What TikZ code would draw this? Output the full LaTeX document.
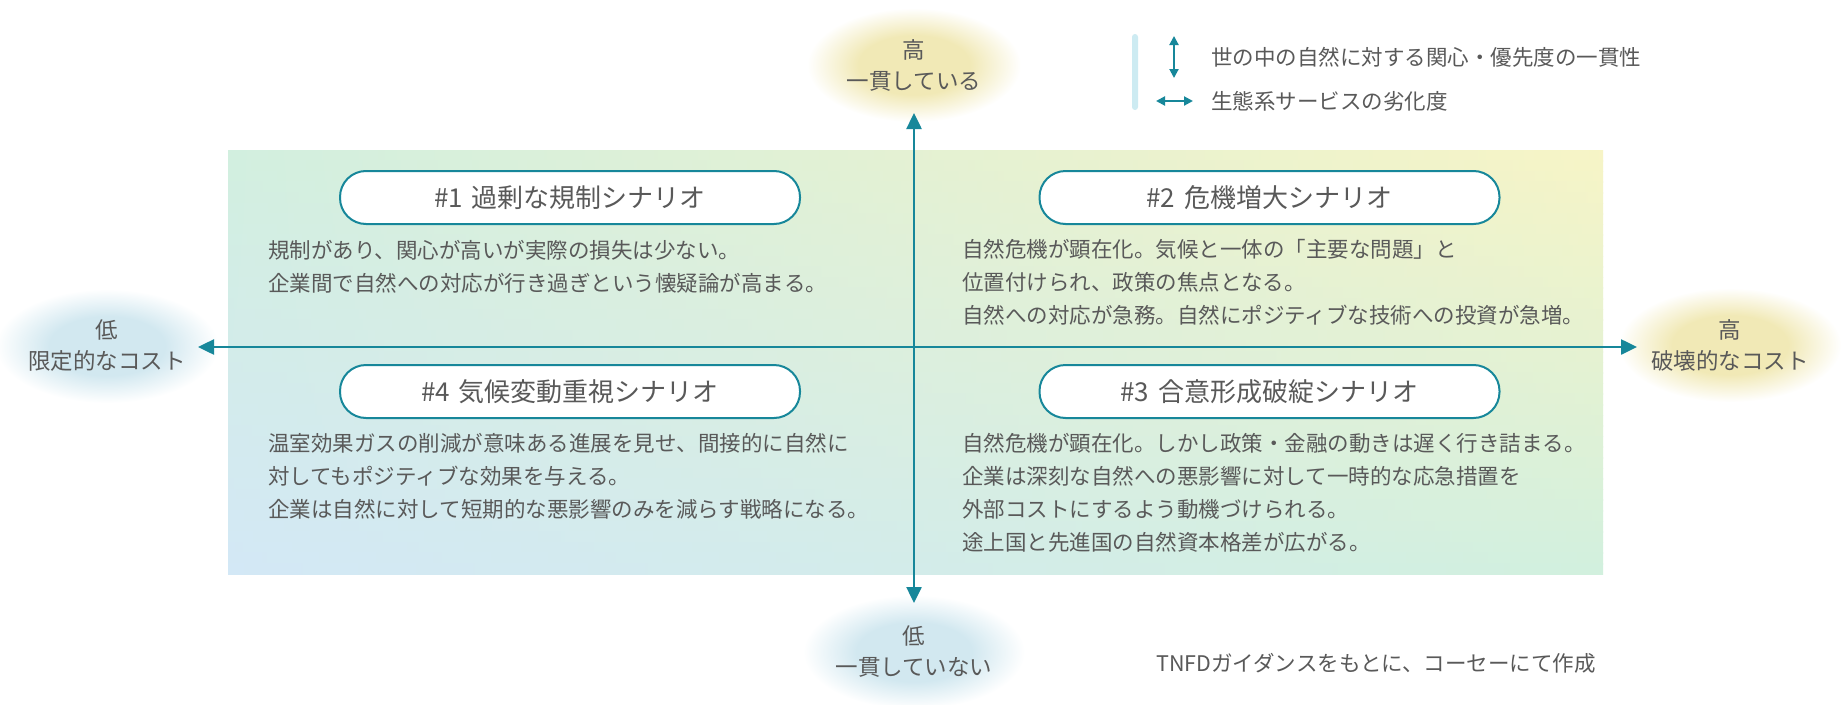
\documentclass[tikz,border=0pt]{standalone}
\usepackage{fontspec}
\setmainfont{Noto Sans CJK JP}
\usetikzlibrary{arrows.meta,shapes.geometric}

\definecolor{axcol}{HTML}{17879A}
\definecolor{txt}{HTML}{595959}
\definecolor{cTL}{HTML}{D2EFDF}
\definecolor{cTR}{HTML}{F7F4C6}
\definecolor{cBL}{HTML}{D3E8F6}
\definecolor{cBR}{HTML}{D2F0DE}
\definecolor{ylw}{HTML}{F1E9B6}
\definecolor{blu}{HTML}{D2E8F0}
\definecolor{legbar}{HTML}{CDEBF2}

\pgfdeclareradialshading{softylw}{\pgfpoint{0bp}{0bp}}{color(0bp)=(ylw); color(13bp)=(ylw); color(25bp)=(white); color(50bp)=(white)}
\pgfdeclareradialshading{softblu}{\pgfpoint{0bp}{0bp}}{color(0bp)=(blu); color(13bp)=(blu); color(25bp)=(white); color(50bp)=(white)}

\begin{document}
\begin{tikzpicture}[x=1pt,y=1pt,
  pill/.style={draw=axcol, line width=2pt, fill=white, rounded corners=26pt,
    minimum width=460pt, minimum height=53pt, inner sep=0pt, text=txt,
    font=\fontsize{26}{30}\selectfont},
  body/.style={anchor=west, align=left, inner sep=0pt, text=txt,
    font=\fontsize{21.5}{33}\selectfont},
  legtext/.style={anchor=west, inner sep=0pt, text=txt,
    font=\fontsize{21.5}{30}\selectfont},
  axlabel/.style={ellipse, minimum width=214pt, minimum height=114pt, inner sep=0pt,
    align=center, text=txt, font=\fontsize{22.5}{31}\selectfont},
  hiell/.style={axlabel, shade, shading=softylw},
  loell/.style={axlabel, shade, shading=softblu},
  axisline/.style={draw=axcol, line width=2.5pt,
    {Triangle[length=16pt,width=15pt]}-{Triangle[length=16pt,width=15pt]}},
  legarrow/.style={draw=axcol, line width=2pt,
    {Triangle[length=9pt,width=9pt]}-{Triangle[length=9pt,width=9pt]}},
]
\useasboundingbox[fill=white] (0,0) rectangle (1841,-704);

% background quadrant panel (bilinear gradient)
\foreach \i in {0,...,39}{
  \pgfmathsetmacro\ya{150+\i*10.6}
  \pgfmathsetmacro\yb{\ya+11.2}
  \pgfmathtruncatemacro\p{round(100-(\i+0.5)*2.5)}
  \shade[left color=cTL!\p!cBL, right color=cTR!\p!cBR] (228,-\ya) rectangle (1603,-\yb);
}

% axis end labels
\node[hiell] (hiT) at (914,-65) {高\\一貫している};
\node[loell] (loL) at (107,-346) {低\\限定的なコスト};
\node[hiell] (hiR) at (1730,-345) {高\\破壊的なコスト};
\node[loell] (loB) at (914,-652) {低\\一貫していない};

% axes
\coordinate (axL) at (198,-347);
\coordinate (axR) at (1637,-347);
\coordinate (axT) at (914,-113);
\coordinate (axB) at (914,-603);
\draw[axisline] (axL) -- (axR);
\draw[axisline] (axT) -- (axB);

% scenario titles
\node[pill] (t1) at (570,-197.5) {\#1\hspace{0.35em}過剰な規制シナリオ};
\node[pill] (t2) at (1269.5,-197.5) {\#2\hspace{0.35em}危機増大シナリオ};
\node[pill] (t3) at (1269.5,-391.5) {\#3\hspace{0.35em}合意形成破綻シナリオ};
\node[pill] (t4) at (570,-391.5) {\#4\hspace{0.35em}気候変動重視シナリオ};

% scenario descriptions
\node[body] (b1) at (268,-266.5) {規制があり、関心が高いが実際の損失は少ない。\\企業間で自然への対応が行き過ぎという懐疑論が高まる。};
\node[body] (b2) at (962,-282.5) {自然危機が顕在化。気候と一体の「主要な問題」と\\位置付けられ、政策の焦点となる。\\自然への対応が急務。自然にポジティブな技術への投資が急増。};
\node[body] (b3) at (962,-492.5) {自然危機が顕在化。しかし政策・金融の動きは遅く行き詰まる。\\企業は深刻な自然への悪影響に対して一時的な応急措置を\\外部コストにするよう動機づけられる。\\途上国と先進国の自然資本格差が広がる。};
\node[body] (b4) at (268,-476.5) {温室効果ガスの削減が意味ある進展を見せ、間接的に自然に\\対してもポジティブな効果を与える。\\企業は自然に対して短期的な悪影響のみを減らす戦略になる。};

% legend
\node[fill=legbar, rounded corners=3pt, minimum width=6pt, minimum height=76pt, inner sep=0pt] (lbar) at (1135,-72) {};
\coordinate (lv1) at (1174,-36);
\coordinate (lv2) at (1174,-78);
\draw[legarrow] (lv1) -- (lv2);
\coordinate (lh1) at (1156,-101);
\coordinate (lh2) at (1193,-101);
\draw[legarrow] (lh1) -- (lh2);
\node[legtext] (l1) at (1211,-57) {世の中の自然に対する関心・優先度の一貫性};
\node[legtext] (l2) at (1211,-101) {生態系サービスの劣化度};

% source note
\node[legtext] (src) at (1156,-663) {TNFDガイダンスをもとに、コーセーにて作成};
\end{tikzpicture}
\end{document}
